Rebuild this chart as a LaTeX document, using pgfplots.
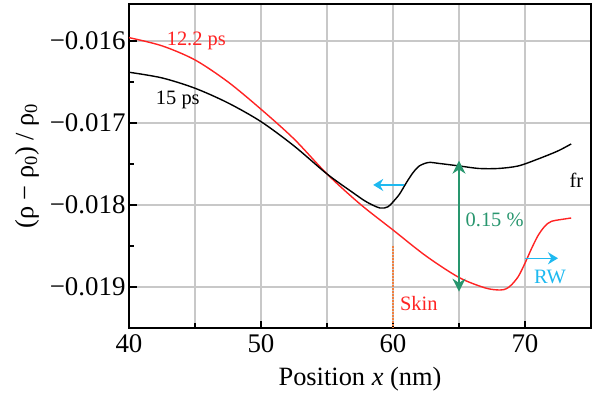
\documentclass[border=0pt]{standalone}
\usepackage{fontspec}
\setmainfont{Liberation Serif}
\usepackage{pgfplots}
\pgfplotsset{compat=1.18}
\usetikzlibrary{arrows.meta}
\definecolor{cRed}{RGB}{255,35,35}
\definecolor{cCyan}{RGB}{30,185,240}
\definecolor{cGreen}{RGB}{40,150,110}
\definecolor{cOrange}{RGB}{240,128,64}
\definecolor{cGrid}{RGB}{200,200,200}

\begin{document}
\begin{tikzpicture}
\begin{axis}[name=ax, scale only axis, width=462bp, height=324bp,
  xmin=40, xmax=75, ymin=-0.0195, ymax=-0.01555,
  xtick={40,50,60,70}, minor xtick={45,55,65,75},
  ytick={-0.019,-0.018,-0.017,-0.016},
  yticklabels={−0.019,−0.018,−0.017,−0.016},
  minor ytick={-0.0195,-0.0185,-0.0175,-0.0165},
  scaled y ticks=false,
  xtick pos=bottom, ytick pos=left, tick align=inside,
  major tick length=7.5bp, minor tick length=5bp,
  xmajorgrids, xminorgrids, ymajorgrids,
  grid style={cGrid, line width=1.2bp},
  minor grid style={cGrid, line width=1.2bp},
  axis line style={line width=1.5bp},
  tick style={black, line width=1.3bp},
  /pgf/number format/assume math mode=true,
  ticklabel style={font=\fontsize{27}{32}\selectfont},
  xticklabel style={yshift=-3bp},
  label style={font=\fontsize{26.5}{32}\selectfont},
  xlabel={Position \textit{x} (nm)},
  ylabel={(ρ − ρ\textsubscript{0}) / ρ\textsubscript{0}},
  xlabel style={at={(axis description cs:0.5,-0.1574)}, anchor=center},
  ylabel style={at={(axis description cs:-0.2208,0.5)}, anchor=center},
]
\addplot[cRed, line width=1.4bp, smooth, tension=0.5] coordinates {
(40,-0.015960) (42.5,-0.016060) (45,-0.016232) (47.5,-0.016500) (50,-0.016833)
(52.5,-0.017195) (55,-0.017622) (57.5,-0.017988) (60,-0.018305) (62.5,-0.018622)
(65,-0.018884) (67,-0.019012) (68.1,-0.019037) (68.6,-0.019020) (69,-0.018970)
(69.5,-0.018870) (70,-0.018710) (70.5,-0.018530) (71,-0.018370) (71.5,-0.018260)
(72,-0.018200) (73,-0.018171) (73.5,-0.018159)};
\addplot[black, line width=1.4bp, smooth, tension=0.5] coordinates {
(40,-0.016382) (42.5,-0.016451) (45,-0.016577) (47.5,-0.016756) (50,-0.016984)
(52.5,-0.017280) (55,-0.017622) (57,-0.017854) (58,-0.017963) (59,-0.018037)
(59.6,-0.018024) (60,-0.017963) (60.5,-0.017866) (61,-0.017732) (61.5,-0.017610)
(62,-0.017524) (62.7,-0.017482) (63.5,-0.017494) (65,-0.017524) (66.5,-0.017555)
(68,-0.017555) (69.5,-0.017524) (71,-0.017439) (72.5,-0.017341) (73.5,-0.017256)};
\draw[cOrange, line width=1.2bp, dash pattern=on 2bp off 1bp] (axis cs:60,-0.0185) -- (axis cs:60,-0.0195);
\draw[cGreen, line width=2bp, {Stealth[length=13bp,width=13bp]}-{Stealth[length=13bp,width=13bp]}] (axis cs:65,-0.01746) -- (axis cs:65,-0.019057);
\draw[cCyan, line width=1.5bp, -{Stealth[length=10bp,width=12bp]}] (axis cs:60.8,-0.017756) -- (axis cs:58.5,-0.017756);
\draw[cCyan, line width=1.5bp, -{Stealth[length=10bp,width=12bp]}] (axis cs:70.0,-0.01865) -- (axis cs:72.5,-0.01865);
\node[cRed, font=\fontsize{20.5}{24}\selectfont] at (axis cs:45.1,-0.016) {12.2 ps};
\node[black, font=\fontsize{20.5}{24}\selectfont] at (axis cs:43.7,-0.01672) {15 ps};
\node[black, font=\fontsize{20.5}{24}\selectfont] at (axis cs:73.9,-0.017695) {fr};
\node[cGreen, font=\fontsize{20.5}{24}\selectfont] at (axis cs:67.7,-0.018183) {0.15 \%};
\node[cCyan, font=\fontsize{20.5}{24}\selectfont] at (axis cs:71.9,-0.018874) {RW};
\node[cRed, font=\fontsize{20.5}{24}\selectfont] at (axis cs:61.95,-0.019199) {Skin};
\end{axis}
\pgfresetboundingbox
\path ([shift={(-129bp,-66bp)}]ax.south west) rectangle ([shift={(4bp,4bp)}]ax.north east);
\end{tikzpicture}
\end{document}
